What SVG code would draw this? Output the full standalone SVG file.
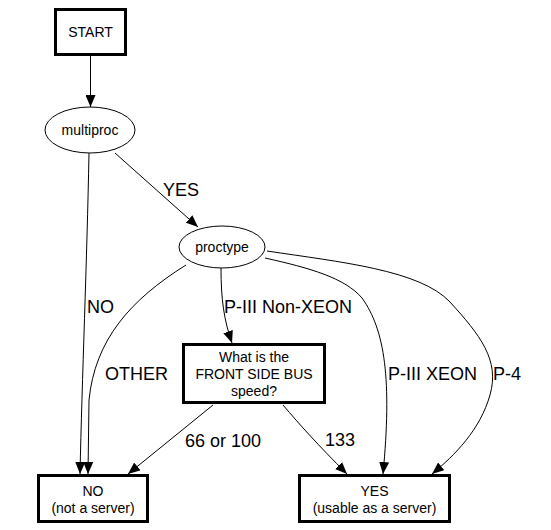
<svg xmlns="http://www.w3.org/2000/svg" width="551" height="530" viewBox="0 0 551 530">
<defs>
<marker id="arr" viewBox="0 0 12 10" refX="12" refY="5" markerWidth="12" markerHeight="10" markerUnits="userSpaceOnUse" orient="auto">
<path d="M0,0 L12,5 L0,10 Z" fill="#000"/>
</marker>
<style>
.box{fill:#fff;stroke:#000;stroke-width:3}
.ell{fill:#fff;stroke:#000;stroke-width:1}
.edge{fill:none;stroke:#000;stroke-width:1;marker-end:url(#arr)}
.nt{font-family:"Liberation Sans",Arial,sans-serif;font-size:14px;text-anchor:middle;fill:#000}
.lbl{font-family:"Liberation Sans",Arial,sans-serif;font-size:18px;fill:#000}
</style>
</defs>
<rect width="551" height="530" fill="#fff"/>
<g id="edges">
<path class="edge" d="M90.5,56 L90.5,107"/>
<path class="edge" d="M115,153 L198,227"/>
<path class="edge" d="M89,153 C87,260 82,380 80,474"/>
<path class="edge" d="M221,268 C221,300 224,320 232,343"/>
<path class="edge" d="M186,265 C130,300 95,340 89,400 L88,474"/>
<path class="edge" d="M265,258 C310,268 345,278 362,298 C385,330 392,380 383,474"/>
<path class="edge" d="M267,251 C340,262 420,270 450,302 C480,335 500,360 490,395 C480,430 455,455 432,474"/>
<path class="edge" d="M213,405 L128,474"/>
<path class="edge" d="M283,405 C300,425 318,445 347,474"/>
<text class="lbl" x="163" y="196">YES</text>
<text class="lbl" x="87" y="313">NO</text>
<text class="lbl" x="224" y="313">P-III Non-XEON</text>
<text class="lbl" x="105" y="380">OTHER</text>
<text class="lbl" x="388" y="380">P-III XEON</text>
<text class="lbl" x="493" y="380">P-4</text>
<text class="lbl" x="185" y="447">66 or 100</text>
<text class="lbl" x="325" y="446">133</text>
</g>
<g id="start">
<rect class="box" x="55.5" y="9.5" width="70" height="45"/>
<text class="nt" x="90.5" y="37">START</text>
</g>
<g id="multiproc">
<ellipse class="ell" cx="90" cy="130" rx="45" ry="23"/>
<text class="nt" x="90" y="135">multiproc</text>
</g>
<g id="proctype">
<ellipse class="ell" cx="222" cy="247" rx="43" ry="21"/>
<text class="nt" x="222" y="252">proctype</text>
</g>
<g id="fsb">
<rect class="box" x="183.5" y="344.5" width="141" height="58"/>
<text class="nt" x="254" y="361.5">What is the</text>
<text class="nt" x="254" y="378.5">FRONT SIDE BUS</text>
<text class="nt" x="254" y="395.5">speed?</text>
</g>
<g id="no">
<rect class="box" x="38.5" y="475.5" width="109" height="46"/>
<text class="nt" x="93" y="496">NO</text>
<text class="nt" x="93" y="513">(not a server)</text>
</g>
<g id="yes">
<rect class="box" x="299.5" y="475.5" width="150" height="46"/>
<text class="nt" x="374.5" y="496">YES</text>
<text class="nt" x="374.5" y="513">(usable as a server)</text>
</g>
</svg>
